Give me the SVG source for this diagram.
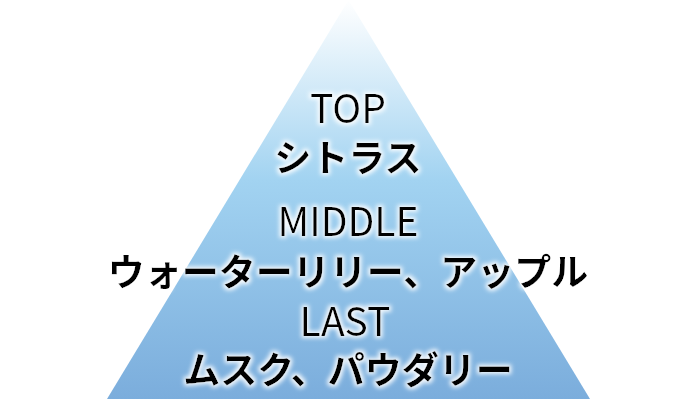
<svg xmlns="http://www.w3.org/2000/svg" width="697" height="419" viewBox="0 0 697 419">
<defs>
<linearGradient id="g" x1="0" y1="0" x2="0" y2="399" gradientUnits="userSpaceOnUse">
<stop offset="0" stop-color="#FFFFFF"/>
<stop offset="0.45" stop-color="#A2D3F1"/>
<stop offset="1" stop-color="#7BADDC"/>
</linearGradient>
<filter id="glow" x="-20%" y="-40%" width="140%" height="180%">
<feMorphology in="SourceAlpha" operator="dilate" radius="1.5" result="d"/>
<feGaussianBlur in="d" stdDeviation="2" result="b"/>
<feFlood flood-color="#FFFFFF" flood-opacity="0.9"/>
<feComposite in2="b" operator="in" result="w"/>
<feMerge><feMergeNode in="w"/><feMergeNode in="SourceGraphic"/></feMerge>
</filter>
</defs>
<style>
text{font-family:"Noto Sans CJK JP","Noto Sans",sans-serif;font-size:39px;fill:#000;text-anchor:middle;filter:url(#glow)}
.jp{font-weight:bold;font-size:37px}
</style>
<g id="pyramid"><polygon points="348.5,0 590,399 107,399" fill="url(#g)"/></g>
<g id="top"><text x="348" y="123">TOP</text><text class="jp" x="348" y="172">シトラス</text></g>
<g id="middle"><text x="348" y="236">MIDDLE</text><text class="jp" x="348" y="286">ウォーターリリー、アップル</text></g>
<g id="last"><text x="345" y="336">LAST</text><text class="jp" x="348" y="384">ムスク、パウダリー</text></g>
<g id="connectors"/>
</svg>
